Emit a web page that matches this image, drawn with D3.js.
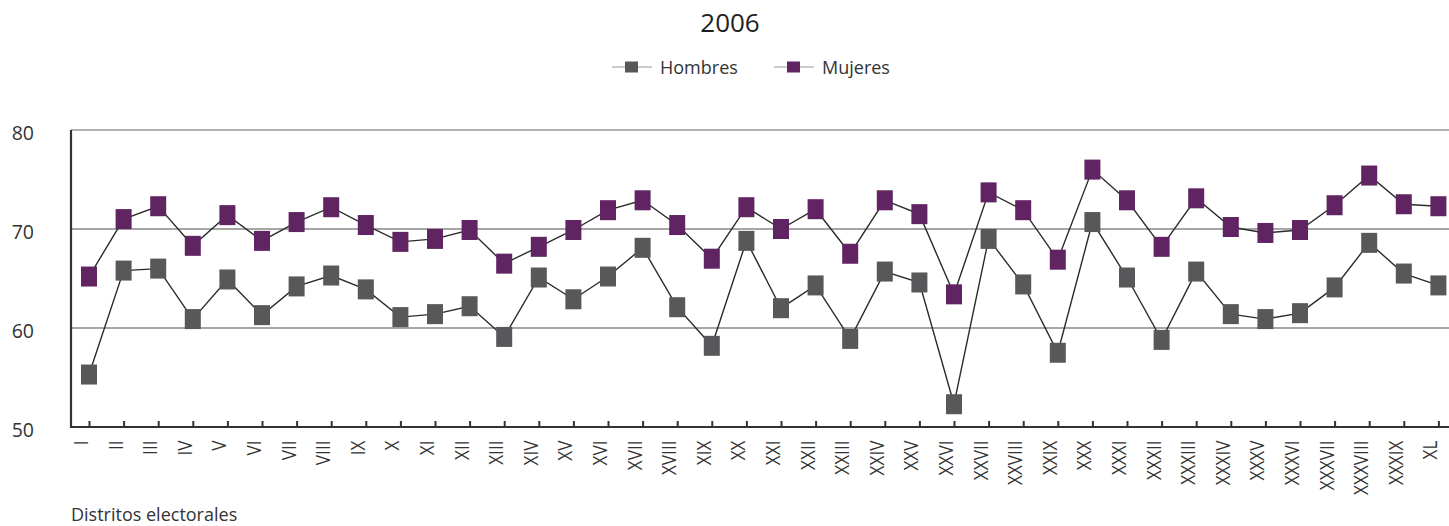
<!DOCTYPE html>
<html>
<head>
<meta charset="utf-8">
<script src="https://cdn.jsdelivr.net/npm/d3@7"></script>
<style>
  body { margin: 0; background: #fff; }
  text { font-family: "Open Sans", "DejaVu Sans", sans-serif; }
</style>
</head>
<body>
<svg id="main_chart" width="1449" height="526"></svg>
<script>
// distritos electorales, 2006
const districts = ["I","II","III","IV","V","VI","VII","VIII","IX","X",
  "XI","XII","XIII","XIV","XV","XVI","XVII","XVIII","XIX","XX",
  "XXI","XXII","XXIII","XXIV","XXV","XXVI","XXVII","XXVIII","XXIX","XXX",
  "XXXI","XXXII","XXXIII","XXXIV","XXXV","XXXVI","XXXVII","XXXVIII","XXXIX","XL"];

const hombres = [55.3, 65.8, 66.0, 60.9, 64.9, 61.3, 64.2, 65.3, 63.9, 61.1,
  61.4, 62.2, 59.1, 65.1, 62.9, 65.2, 68.1, 62.1, 58.2, 68.8,
  62.0, 64.3, 58.9, 65.7, 64.6, 52.3, 69.0, 64.4, 57.5, 70.7,
  65.1, 58.8, 65.7, 61.4, 60.9, 61.5, 64.1, 68.6, 65.5, 64.3];

const mujeres = [65.2, 71.0, 72.3, 68.3, 71.4, 68.8, 70.7, 72.2, 70.4, 68.7,
  69.0, 69.9, 66.5, 68.2, 69.9, 71.9, 72.9, 70.4, 67.0, 72.2,
  70.0, 72.0, 67.5, 72.9, 71.5, 63.4, 73.7, 71.9, 66.9, 76.0,
  72.9, 68.2, 73.1, 70.2, 69.6, 69.9, 72.4, 75.4, 72.5, 72.3];

const yTicks = [50, 60, 70, 80];
const gridValues = [60, 70];

const seriesNames = ["Hombres", "Mujeres"];
const seriesColors = ["#58585a", "#5f2461"];

let svg = d3.select("#main_chart");

let xScale = d3.scalePoint()
    .domain(districts)
    .range([89, 1438.4]);

let yScale = d3.scaleLinear()
    .domain([50, 80])
    .range([427, 130]);

// title
svg.append("text")
    .attr("x", 730)
    .attr("y", 32)
    .attr("text-anchor", "middle")
    .style("font-size", "26px")
    .style("font-weight", 500)
    .style("fill", "#1e1e1e")
    .text("2006");

// legend
let legendX = [612, 774];
let legend = svg.append("g");
seriesNames.forEach(function(name, i) {
    let g = legend.append("g").attr("transform", "translate(" + legendX[i] + ",67)");
    g.append("line")
        .attr("x1", 0).attr("x2", 40)
        .attr("y1", 0).attr("y2", 0)
        .style("stroke", "#bbb")
        .style("stroke-width", 1.3);
    g.append("rect")
        .attr("x", 13).attr("y", -5.5)
        .attr("width", 13).attr("height", 11)
        .style("fill", seriesColors[i]);
    g.append("text")
        .attr("x", 48)
        .attr("y", 7)
        .style("font-size", "18px")
        .style("fill", "#333")
        .text(name);
});

// grid lines and frame
svg.append("g").selectAll("line")
    .data(gridValues)
    .enter().append("line")
    .attr("x1", 71).attr("x2", 1449)
    .attr("y1", d => yScale(d)).attr("y2", d => yScale(d))
    .style("stroke", "#888")
    .style("stroke-width", 1.6);

svg.append("line")
    .attr("x1", 71).attr("x2", 1449)
    .attr("y1", yScale(80)).attr("y2", yScale(80))
    .style("stroke", "#666")
    .style("stroke-width", 1.2);

// y axis labels
svg.append("g")
    .attr("transform", "translate(71,0)")
    .call(d3.axisLeft(yScale).tickValues(yTicks).tickSize(0).tickPadding(37))
    .call(g => g.select(".domain").remove())
    .call(g => g.selectAll("text")
        .attr("dy", "0.35em")
        .attr("y", 3)
        .style("font-family", "'Open Sans', sans-serif")
        .style("font-size", "19.5px")
        .style("fill", "#333"));

svg.append("line")
    .attr("x1", 71).attr("x2", 71)
    .attr("y1", yScale(80)).attr("y2", yScale(50) + 1)
    .style("stroke", "#333")
    .style("stroke-width", 2.2);

// x axis
svg.append("g")
    .attr("transform", "translate(0," + yScale(50) + ")")
    .call(d3.axisBottom(xScale).tickSizeInner(-6).tickSizeOuter(0))
    .call(g => g.select(".domain").remove())
    .call(g => g.selectAll(".tick line")
        .style("stroke", "#333")
        .style("stroke-width", 2))
    .call(g => g.selectAll(".tick text")
        .attr("x", 0).attr("y", 0).attr("dy", 0)
        .attr("text-anchor", "end")
        .attr("transform", "translate(-1.5,13.5) rotate(-90) scale(0.86,1)")
        .style("font-family", "'Open Sans', sans-serif")
        .style("font-size", "20px")
        .style("fill", "#333"));

svg.append("line")
    .attr("x1", 70).attr("x2", 1449)
    .attr("y1", yScale(50)).attr("y2", yScale(50))
    .style("stroke", "#333")
    .style("stroke-width", 2.2);

// axis title
svg.append("text")
    .attr("x", 71)
    .attr("y", 521)
    .style("font-size", "18px")
    .style("fill", "#333")
    .text("Distritos electorales");

// series
let line = d3.line()
    .x((d, i) => xScale(districts[i]))
    .y(d => yScale(d));

[hombres, mujeres].forEach(function(values, s) {
    let g = svg.append("g").attr("class", "series");
    g.append("path")
        .attr("d", line(values))
        .style("fill", "none")
        .style("stroke", "#2b2b2b")
        .style("stroke-width", 1.4);
    g.selectAll("rect")
        .data(values)
        .enter().append("rect")
        .attr("x", (d, i) => xScale(districts[i]) - 8)
        .attr("y", d => yScale(d) - 10)
        .attr("width", 16)
        .attr("height", 20)
        .style("fill", seriesColors[s]);
});
</script>
</body>
</html>
